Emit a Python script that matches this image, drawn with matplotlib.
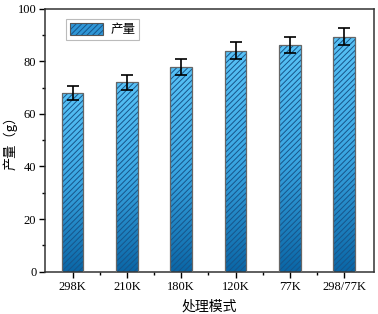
import numpy as np
import matplotlib
matplotlib.use('Agg')
from matplotlib import pyplot as plt
from matplotlib.colors import LinearSegmentedColormap
from matplotlib.patches import Rectangle
from matplotlib.legend_handler import HandlerBase
from matplotlib.ticker import MultipleLocator

# data
categories = ['298K', '210K', '180K', '120K', '77K', '298/77K']
yields = [68.0, 72.0, 77.8, 84.0, 86.2, 89.4]
errors = [2.6, 2.8, 3.0, 3.2, 3.0, 3.2]

plt.rcParams['font.family'] = ['Liberation Serif', 'Noto Sans CJK SC']
plt.rcParams['hatch.linewidth'] = 0.7
plt.rcParams['hatch.color'] = '#17558a'

cmap = LinearSegmentedColormap.from_list('bar', ['#0a66a6', '#3aa6e2', '#58c2f6'])
grad = np.linspace(0, 1, 256).reshape(-1, 1)
hatch = '//////'


class GradientHandler(HandlerBase):
    def create_artists(self, legend, orig_handle, xdescent, ydescent,
                       width, height, fontsize, trans):
        bg = Rectangle((-xdescent, -ydescent), width, height, transform=trans,
                       facecolor='#2f96d6', edgecolor='none')
        r = Rectangle((-xdescent, -ydescent), width, height, transform=trans,
                      facecolor='none', edgecolor='#17558a', hatch=hatch, lw=0)
        edge = Rectangle((-xdescent, -ydescent), width, height, transform=trans,
                         facecolor='none', edgecolor='#555555', lw=0.8)
        return [bg, r, edge]


fig, ax = plt.subplots(figsize=(3.78, 3.14), dpi=100)
fig.subplots_adjust(left=0.12, right=0.99, top=0.972, bottom=0.135)

x = np.arange(len(categories))
width = 0.4
for xi, h in zip(x, yields):
    ax.imshow(grad, cmap=cmap, origin='lower', aspect='auto',
              extent=[xi - width / 2, xi + width / 2, 0, h], zorder=1)
bars = ax.bar(x, yields, width, facecolor='none', edgecolor='#17558a',
              hatch=hatch, linewidth=0, zorder=2, label='产量')
ax.bar(x, yields, width, facecolor='none', edgecolor='#666666',
       linewidth=0.9, zorder=3)
ax.errorbar(x, yields, yerr=errors, fmt='none', ecolor='black',
            elinewidth=1.2, capsize=4, capthick=1.2, zorder=4)

ax.set_xlim(-0.5, 5.55)
ax.set_ylim(0, 100)
ax.set_xticks(x)
ax.set_xticklabels(categories, fontsize=9)
ax.set_xticks(x[:-1] + 0.5, minor=True)
ax.yaxis.set_major_locator(MultipleLocator(20))
ax.yaxis.set_minor_locator(MultipleLocator(10))
ax.tick_params(axis='both', which='major', direction='out', length=4,
               width=1, labelsize=9, pad=2.5)
ax.tick_params(axis='both', which='minor', direction='out', length=2.5, width=1)
for s in ax.spines.values():
    s.set_linewidth(1.1)
    s.set_color('#333333')

ax.set_xlabel('处理模式', fontsize=10, family=['Noto Sans CJK SC'])
ax.xaxis.set_label_coords(0.5, -0.105)
ax.set_ylabel('产量（g）', fontsize=9.5, family=['Noto Sans CJK SC', 'Liberation Serif'])
ax.yaxis.set_label_coords(-0.085, 0.5)

leg = ax.legend(handles=[bars], labels=['产量'], loc='upper left',
                bbox_to_anchor=(0.045, 0.985), frameon=True, fancybox=False,
                edgecolor='#aaaaaa', handlelength=2.6, handleheight=1.1,
                prop={'family': ['Noto Sans CJK SC'], 'size': 9},
                handler_map={type(bars): GradientHandler()},
                borderpad=0.3, handletextpad=0.6)
leg.get_frame().set_linewidth(0.8)

plt.savefig('out.png', dpi=100)
